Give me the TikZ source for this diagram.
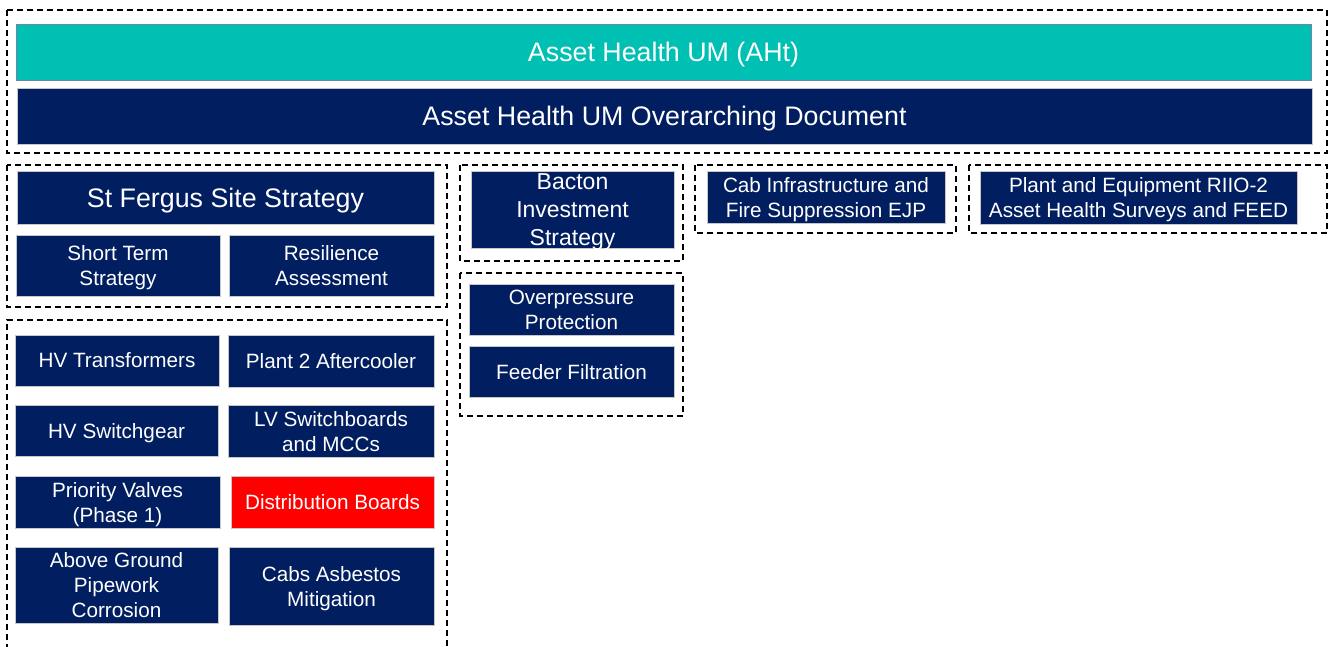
\documentclass[tikz,border=0pt]{standalone}
\usepackage{fontspec}
\setmainfont{Liberation Sans}
\definecolor{ahteal}{HTML}{00BFB3}
\definecolor{ahnavy}{HTML}{001E60}
\definecolor{ahred}{HTML}{FF0000}

\begin{document}
\begin{tikzpicture}[x=1pt,y=-1pt,
  every node/.style={inner sep=0pt,outer sep=0pt,align=center,text=white,text depth=0pt},
  doc/.style={fill=ahnavy,draw=gray!45,line width=0.8pt,font=\fontsize{20.7}{25}\selectfont},
  bigdoc/.style={doc,font=\fontsize{26.8}{32}\selectfont},
  group/.style={draw=black,dash pattern=on 6pt off 4pt,line width=1.2pt}]
\useasboundingbox (0,0) rectangle (1333,646);

% dashed groupings
\draw[group] (7,10) rectangle (1327,153);
\draw[group] (7,165) rectangle (447,307);
\draw[group] (7,650) -- (7,320) -- (447,320) -- (447,650);
\draw[group] (460,165) rectangle (683,261);
\draw[group] (460,273) rectangle (683,416);
\draw[group] (695,165) rectangle (956,233);
\draw[group] (969,165) rectangle (1327,233);

% top level
\node[bigdoc, fill=ahteal, draw=ahnavy!55, minimum width=1295pt, minimum height=56pt] (aht) at (663.5,52) {Asset Health UM (AHt)};
\node[bigdoc, minimum width=1295pt, minimum height=56pt] (overarch) at (664.5,116) {Asset Health UM Overarching Document};

% St Fergus
\node[bigdoc, minimum width=417pt, minimum height=53pt] (stfergus) at (225.5,197.5) {St Fergus Site Strategy};
\node[doc, minimum width=204pt, minimum height=61pt] (shortterm) at (118,265.5) {Short Term\\Strategy};
\node[doc, minimum width=205pt, minimum height=61pt] (resilience) at (331.5,265.5) {Resilience\\Assessment};

\node[doc, minimum width=204pt, minimum height=51pt] (hvtrans) at (117,360.5) {HV Transformers};
\node[doc, minimum width=206pt, minimum height=52pt] (aftercooler) at (331,361) {Plant 2 Aftercooler};
\node[doc, minimum width=203pt, minimum height=51pt] (hvswitch) at (116.5,430.5) {HV Switchgear};
\node[doc, minimum width=206pt, minimum height=52pt] (lvswitch) at (331,431) {LV Switchboards\\and MCCs};
\node[doc, minimum width=205pt, minimum height=52pt] (valves) at (117.5,502) {Priority Valves\\(Phase 1)};
\node[doc, fill=ahred, minimum width=203pt, minimum height=52pt] (distboards) at (332.5,502) {Distribution Boards};
\node[doc, minimum width=203pt, minimum height=76pt] (pipework) at (116.5,585) {Above Ground\\Pipework\\Corrosion};
\node[doc, minimum width=205pt, minimum height=78pt] (asbestos) at (331.5,586) {Cabs Asbestos\\Mitigation};

% Bacton
\node[doc, minimum width=203pt, minimum height=77pt] (bacton) at (572.5,209.5) {};
\node[font=\fontsize{23}{28}\selectfont] (bactontext) at (bacton.center) {Bacton\\Investment\\Strategy};
\node[doc, minimum width=205pt, minimum height=51pt] (overpressure) at (571.5,309.5) {Overpressure\\Protection};
\node[doc, minimum width=205pt, minimum height=51pt] (feeder) at (571.5,371.5) {Feeder Filtration};

% others
\node[doc, minimum width=238pt, minimum height=52pt] (cabinfra) at (826,197) {Cab Infrastructure and\\Fire Suppression EJP};
\node[doc, minimum width=317pt, minimum height=53pt] (surveys) at (1138.5,197.5) {Plant and Equipment RIIO-2\\Asset Health Surveys and FEED};
\end{tikzpicture}
\end{document}
